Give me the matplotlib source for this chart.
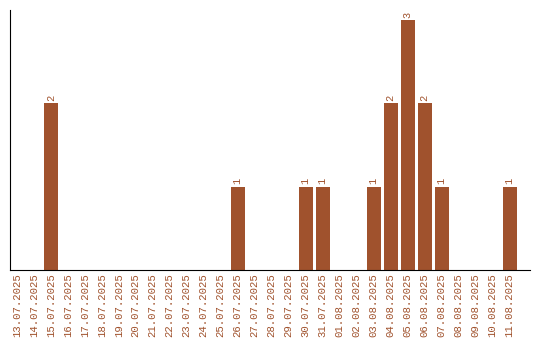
import matplotlib
matplotlib.use("Agg")
import matplotlib.pyplot as plt

dates = ["13.07.2025", "14.07.2025", "15.07.2025", "16.07.2025", "17.07.2025",
         "18.07.2025", "19.07.2025", "20.07.2025", "21.07.2025", "22.07.2025",
         "23.07.2025", "24.07.2025", "25.07.2025", "26.07.2025", "27.07.2025",
         "28.07.2025", "29.07.2025", "30.07.2025", "31.07.2025", "01.08.2025",
         "02.08.2025", "03.08.2025", "04.08.2025", "05.08.2025", "06.08.2025",
         "07.08.2025", "08.08.2025", "09.08.2025", "10.08.2025", "11.08.2025"]
counts = [0, 0, 2, 0, 0, 0, 0, 0, 0, 0, 0, 0, 0, 1, 0, 0, 0, 1, 1, 0,
          0, 1, 2, 3, 2, 1, 0, 0, 0, 1]

color = "#A0522D"
fig = plt.figure(figsize=(5.4, 3.4), dpi=100)
ax = fig.add_axes([10/540, 70/340, 520/540, 260/340])
x = list(range(len(dates)))
bars = ax.bar(x, counts, width=0.82, color=color)
for xi, c in zip(x, counts):
    if c > 0:
        ax.text(xi, c + 0.03, str(c), rotation=90, ha="center", va="bottom",
                color=color, fontsize=7.5, family="Liberation Mono")
ax.set_xticks(x)
ax.set_xticklabels(dates, rotation=90, color=color, fontsize=7.7,
                   family="Liberation Mono")
ax.tick_params(axis="x", length=0, pad=2.5)
ax.set_yticks([])
ax.set_xlim(-0.4, 30.2)
ax.set_ylim(0, 3.12)
ax.spines["top"].set_visible(False)
ax.spines["right"].set_visible(False)
fig.savefig("out.png", dpi=100)
